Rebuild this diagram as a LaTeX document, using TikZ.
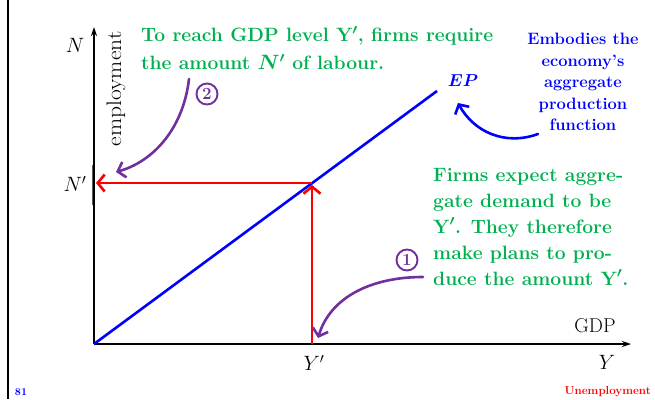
\documentclass[tikz,border=0pt]{standalone}
\usetikzlibrary{arrows.meta}
\definecolor{tgreen}{RGB}{0,176,80}
\definecolor{tpurple}{RGB}{112,48,160}
\begin{document}
\begin{tikzpicture}[x=1pt,y=-1pt,
  axisline/.style={black,line width=1.6pt,-{Stealth[length=9pt,width=6pt]}},
  redarr/.style={red,line width=2.6pt,-{Straight Barb[length=7pt,width=17pt]}},
  purarr/.style={tpurple,line width=2.6pt,line cap=round,-{Straight Barb[length=7pt,width=16pt]}},
  bluarr/.style={blue,line width=2.6pt,line cap=round,-{Straight Barb[length=7pt,width=16pt]}},
  circnum/.style={circle,draw=tpurple,line width=1.9pt,text=tpurple,inner sep=0pt,minimum size=21pt,font=\fontsize{17}{17}\selectfont\bfseries},
  greentxt/.style={text=tgreen,inner sep=0pt,align=left,font=\fontsize{19.3}{26}\selectfont\bfseries\boldmath},
  bluetxt/.style={text=blue,inner sep=0pt,align=center,font=\fontsize{16.5}{21.5}\selectfont\bfseries},
  axlabel/.style={inner sep=0pt,font=\fontsize{20}{20}\selectfont}
]
\useasboundingbox (0,0) rectangle (655,399);
% frame line at left
\draw[line width=2.4pt] (8,0) -- (8,399);
% coordinates
\coordinate (O) at (94,344);
\coordinate (Ytop) at (94,27);
\coordinate (Xend) at (631,344);
\coordinate (E) at (312,183);
\coordinate (Nhit) at (96,183);
\coordinate (Yp) at (312,344);
\coordinate (Ehit) at (312,185);
\coordinate (EPend) at (437,91);
\coordinate (tickA) at (93,165);
\coordinate (tickB) at (93,205);
% tick at N'
\draw[black!65,line width=3pt] (tickA) -- (tickB);
% axes
\draw[axisline] (O) -- (Ytop);
\draw[axisline] (O) -- (Xend);
% EP line
\draw[blue,line width=2.6pt] (O) -- (EPend);
% red arrows
\draw[redarr] (E) -- (Nhit);
\draw[redarr] (Yp) -- (Ehit);
% axis labels
\node[axlabel] (lN) at (75,45) {$N$};
\node[axlabel] (lNp) at (75,184) {$N'$};
\node[axlabel] (lYp) at (314,363) {$Y'$};
\node[axlabel] (lY) at (607,362) {$Y$};
\node[axlabel,anchor=base] (lGDP) at (595,332) {GDP};
\node[axlabel,rotate=90,font=\fontsize{21}{21}\selectfont] (lemp) at (116,89) {\scalebox{1.12}[1]{employment}};
% EP label
\node[text=blue,inner sep=0pt,font=\fontsize{19}{19}\selectfont\boldmath] (EP) at (463,81) {$EP$};
% texts
\node[greentxt,anchor=north west] (t2) at (141,26)
  {To reach GDP level Y$'$, firms require\\[2pt] the amount $N'$ of labour.};
\node[greentxt,anchor=north west] (t1) at (433,168)
  {Firms expect aggre-\\gate demand to be\\Y$'$. They therefore\\make plans to pro-\\duce the amount Y$'$.};
\node[bluetxt,anchor=north] (tb) at (583,33)
  {Embodies the\\economy's\\aggregate\\production\\function};
% circled numbers
\node[circnum] (c1) at (407,260) {1};
\node[circnum] (c2) at (207,94) {2};
% curved arrows
\coordinate (p1s) at (423,277);
\coordinate (p1e) at (318,338);
\coordinate (p2s) at (189,79);
\coordinate (p2e) at (116,172);
\coordinate (bs) at (538,134);
\coordinate (be) at (458,103);
\draw[purarr] (p1s) .. controls (370,277) and (330,298) .. (p1e);
\draw[purarr] (p2s) .. controls (183,130) and (152,162) .. (p2e);
\draw[bluarr] (bs) .. controls (505,146) and (474,132) .. (be);
% footer
\node[text=blue,inner sep=0pt,font=\fontsize{10.5}{10.5}\selectfont\bfseries] (pg) at (21,392) {81};
\node[text=red,inner sep=0pt,anchor=east,font=\fontsize{11.5}{11.5}\selectfont\bfseries] (ft) at (651,392) {Unemployment};
\end{tikzpicture}
\end{document}
